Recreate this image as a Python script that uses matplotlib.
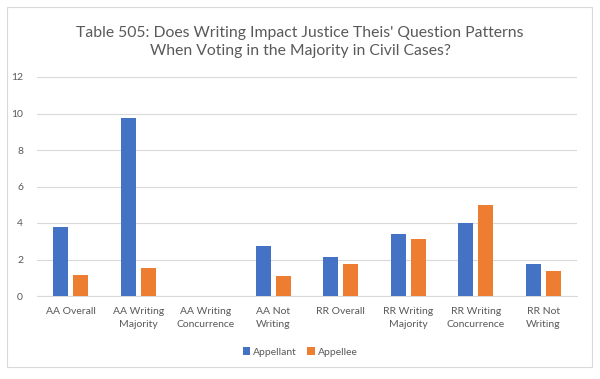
import matplotlib
matplotlib.use("Agg")
import matplotlib.pyplot as plt
import numpy as np
from matplotlib.patches import Rectangle

categories = ["AA Overall", "AA Writing\nMajority", "AA Writing\nConcurrence", "AA Not\nWriting",
              "RR Overall", "RR Writing\nMajority", "RR Writing\nConcurrence", "RR Not\nWriting"]
appellant = [3.80, 9.78, np.nan, 2.74, 2.12, 3.38, 4.0, 1.77]
appellee = [1.15, 1.51, np.nan, 1.09, 1.77, 3.10, 5.0, 1.37]
yticks = [0, 2, 4, 6, 8, 10, 12]
title = "Table 505: Does Writing Impact Justice Theis' Question Patterns\nWhen Voting in the Majority in Civil Cases?"

plt.rcParams['font.family'] = ['Lato', 'DejaVu Sans']
txt = "#595959"

fig = plt.figure(figsize=(6, 3.79), dpi=100)
fig.patches.append(Rectangle((7/600, 1-367/379), 585/600, 360/379, transform=fig.transFigure,
                             fill=False, edgecolor="#D9D9D9", linewidth=0.8))
ax = fig.add_axes([37/600, 1-296/379, 540/600, 219/379])
x = np.arange(len(categories))
w = 0.222
ax.bar(x - 0.15, appellant, w, color="#4472C4", label="Appellant", zorder=3)
ax.bar(x + 0.15, appellee, w, color="#ED7D31", label="Appellee", zorder=3)
ax.set_xlim(-0.5, len(categories) - 0.5)
ax.set_ylim(0, 12)
ax.set_yticks(yticks)
ax.yaxis.grid(True, color="#D9D9D9", linewidth=0.8, zorder=0)
for s in ["top", "right", "left"]:
    ax.spines[s].set_visible(False)
ax.spines["bottom"].set_color("#D9D9D9")
ax.tick_params(axis="both", length=0, colors=txt, labelsize=7.5)
ax.tick_params(axis="y", pad=10)
ax.set_xticks(x)
ax.set_xticklabels(categories, fontsize=7.5, color=txt, linespacing=1.6)
ax.tick_params(axis="x", pad=8)
fig.text(0.5, 1-42/379, title, ha="center", va="center", fontsize=11.3, color=txt, linespacing=1.45)
leg = fig.legend(loc="center", bbox_to_anchor=(0.5, 1-352/379), ncol=2, frameon=False,
                 fontsize=7.5, handlelength=0.7, handleheight=0.7, handletextpad=0.3, columnspacing=1.0)
for t in leg.get_texts():
    t.set_color(txt)
fig.savefig("out.png", dpi=100)
